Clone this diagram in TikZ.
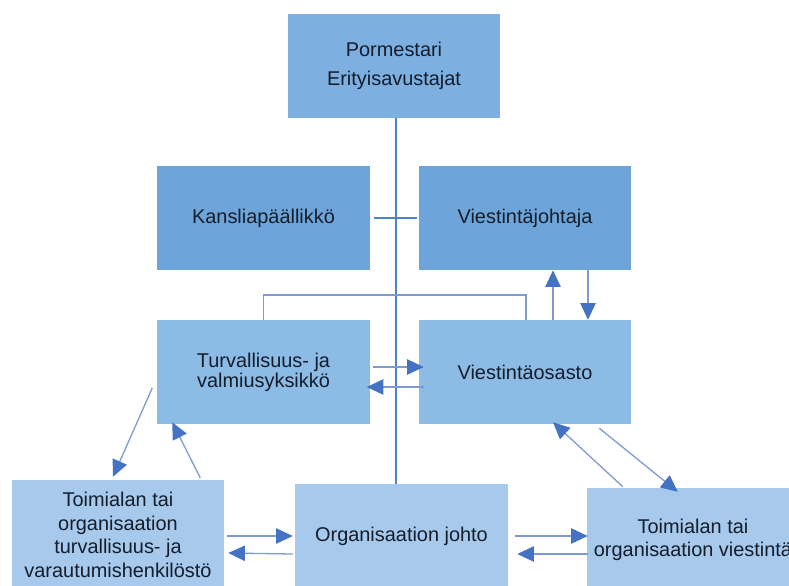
\documentclass[tikz,border=0pt]{standalone}
\usepackage{fontspec}
\setmainfont{Liberation Sans}
\usetikzlibrary{
  positioning,
  arrows.meta,
  calc
}
\usepackage{xcolor}
\definecolor{rowone}{HTML}{7DAFE0}
\definecolor{rowtwo}{HTML}{6DA5DA}
\definecolor{rowthree}{HTML}{8CBBE6}
\definecolor{rowfour}{HTML}{A6C9EC}
\definecolor{boxtext}{HTML}{151D2B}
\definecolor{linkblue}{HTML}{4F82C8}
\definecolor{flowline}{HTML}{7F9AD0}
\definecolor{flowhead}{HTML}{4472C4}

\begin{document}
\begin{tikzpicture}[
  x=0.03cm, y=-0.03cm,
  box/.style={minimum width=6.36cm, minimum height=3.12cm, inner sep=0pt, align=center,
              text=boxtext, font=\fontsize{17}{20}\selectfont},
  flow/.style={draw=flowline, line width=1.1pt,
               -{Triangle[length=0.5cm, width=0.46cm, color=flowhead]}},
  link/.style={draw=linkblue, line width=1.2pt}
]
  \useasboundingbox (0,0) rectangle (789,585);
  \clip (0,0) rectangle (789,585);

  % Top and second row
  \node[box, fill=rowone] (pormestari) at (394, 66) {Pormestari\\[5pt]Erityisavustajat};
  \node[box, fill=rowtwo] (kanslia) at (263.5, 218) {Kansliapäällikkö};
  \node[box, fill=rowtwo] (viestjoht) at (525, 218) {Viestintäjohtaja};

  % Third row
  \node[box, fill=rowthree] (turva) at (263.5, 372) {Turvallisuus- ja\\[-3pt]valmiusyksikkö};
  \node[box, fill=rowthree] (viestos) at (525, 372) {Viestintäosasto};

  % Bottom row
  \node[box, fill=rowfour, minimum height=3.3cm] (toimturva) at (118, 535)
    {Toimialan tai\\organisaation\\turvallisuus- ja\\varautumishenkilöstö};
  \node[box, fill=rowfour, minimum width=6.39cm] (orgjohto) at (401.5, 536) {Organisaation johto};
  \node[box, fill=rowfour] (toimviest) at (693, 540) {Toimialan tai\\organisaation viestintä};

  % Lines of command
  \draw[link] (pormestari.south -| 396,0) -- (orgjohto.north -| 396,0);
  \draw[link] ($(kanslia.east)+(4,0)$) -- ($(viestjoht.west)+(-2,0)$);
  \draw[link, draw=flowline, line width=1.4pt] (turva.north) -- ++(0,-25) -| ($(viestos.north)+(1,0)$);

  % Arrows between units
  \draw[flow] ($(turva.east)+(3,-5)$) -- ($(viestos.west)+(5,-5)$);
  \draw[flow] ($(viestos.west)+(5,15)$) -- ($(turva.east)+(-3,15)$);
  \draw[flow] ($(viestos.north)+(28,0)$) -- ($(viestjoht.south)+(28,0)$);
  \draw[flow] ($(viestjoht.south)+(63,0)$) -- ($(viestos.north)+(63,0)$);

  \draw[flow] ($(turva.west)+(-5,16)$) -- ($(toimturva.north)+(-5,-3)$);
  \draw[flow] ($(toimturva.north east)+(-24,-2)$) -- ($(turva.south west)+(15,-2)$);
  \draw[flow] ($(toimviest.north west)+(36,-1)$) -- ($(viestos.south)+(28,-2)$);
  \draw[flow] ($(viestos.south east)+(-32,4)$) -- ($(toimviest.north west)+(91,4)$);

  \draw[flow] ($(toimturva.east)+(3,1)$) -- ($(orgjohto.west)+(-2,0)$);
  \draw[flow] ($(orgjohto.west)+(-2,18)$) -- ($(toimturva.east)+(4,18)$);
  \draw[flow] ($(orgjohto.east)+(7,0)$) -- ($(toimviest.west)+(1,-4)$);
  \draw[flow] ($(toimviest.west)+(1,14)$) -- ($(orgjohto.east)+(9,18)$);
\end{tikzpicture}
\end{document}
